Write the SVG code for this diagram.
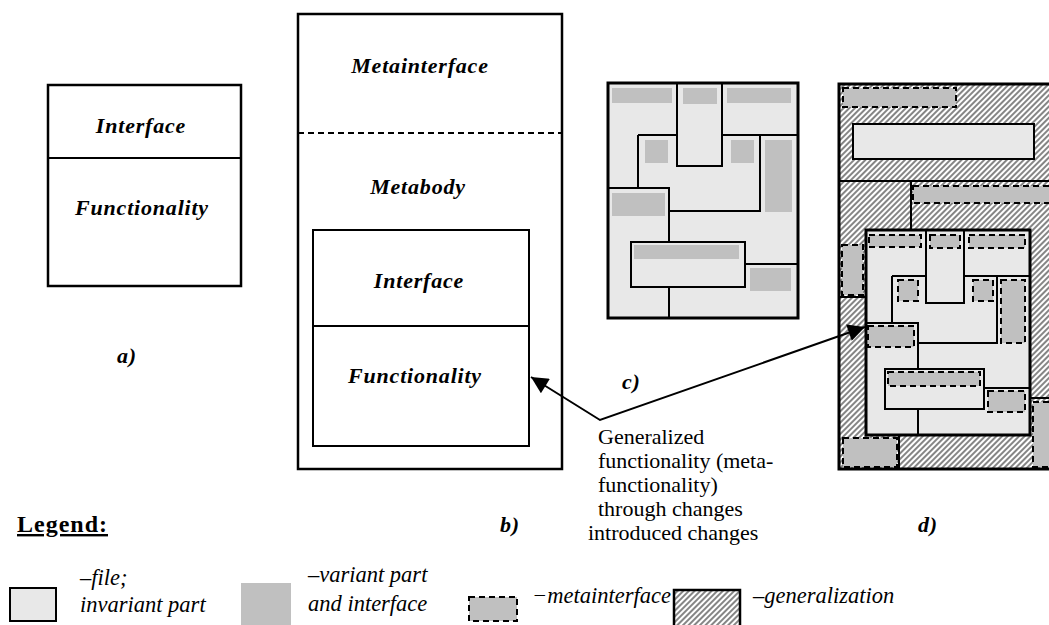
<svg xmlns="http://www.w3.org/2000/svg" width="1049" height="625" viewBox="0 0 1049 625">
<defs>
<pattern id="hatch" patternUnits="userSpaceOnUse" width="4" height="4" patternTransform="rotate(45)">
<rect width="4" height="4" fill="#ffffff"/>
<line x1="1" y1="0" x2="1" y2="4" stroke="#444444" stroke-width="1.3"/>
</pattern>
<marker id="ah" viewBox="0 0 10 10" refX="10" refY="5" markerWidth="22" markerHeight="17" markerUnits="userSpaceOnUse" orient="auto-start-reverse">
<path d="M0,0 L10,5 L0,10 z" fill="#000"/>
</marker>
<style>
.lbl{font-family:"Liberation Serif","Times New Roman",serif;font-size:22px;font-weight:bold;font-style:italic;letter-spacing:0.8px;fill:#000}
.note{font-family:"Liberation Serif","Times New Roman",serif;font-size:22px;fill:#000}
.leg{font-family:"Liberation Serif","Times New Roman",serif;font-size:22.5px;font-style:italic;fill:#000}
.box{fill:#fff;stroke:#000;stroke-width:2.5}
.ln{fill:none;stroke:#000;stroke-width:2}
.thick{stroke:#000;stroke-width:3}
.light{fill:#e8e8e8}
.var{fill:#c0c0c0}
.meta{fill:#c0c0c0;stroke:#000;stroke-width:2;stroke-dasharray:6,4}
.conn{fill:none;stroke:#000;stroke-width:2}
</style>
</defs>

<g id="node-a">
<rect class="box" x="48" y="85" width="193" height="201"/>
<line class="ln" x1="48" y1="158" x2="241" y2="158"/>
<text class="lbl" x="141" y="133" text-anchor="middle">Interface</text>
<text class="lbl" x="142" y="215" text-anchor="middle">Functionality</text>
<text class="lbl" x="117" y="363">a)</text>
</g>

<g id="node-b">
<rect class="box" x="298" y="14" width="264" height="455"/>
<line x1="298" y1="133" x2="562" y2="133" stroke="#000" stroke-width="2" stroke-dasharray="6,4"/>
<text class="lbl" x="420" y="73" text-anchor="middle">Metainterface</text>
<text class="lbl" x="418" y="194" text-anchor="middle">Metabody</text>
<rect class="ln" x="313" y="230" width="216" height="216"/>
<line class="ln" x1="313" y1="326" x2="529" y2="326"/>
<text class="lbl" x="419" y="288" text-anchor="middle">Interface</text>
<text class="lbl" x="415" y="383" text-anchor="middle">Functionality</text>
<text class="lbl" x="500" y="532">b)</text>
</g>

<g id="node-c">
<rect class="light thick" x="608" y="83" width="190" height="235"/>
<rect class="ln" x="677" y="83" width="45" height="83"/>
<path class="ln" d="M638,135 H677 M722,135 H798 M638,135 V188 M608,188 H669 V242 M669,211 H760 V135 M745,264 H798 M669,287 V318"/>
<rect class="ln" x="631" y="242" width="114" height="45"/>
<rect class="var" x="612" y="88" width="60" height="15"/>
<rect class="var" x="683" y="88" width="34" height="16"/>
<rect class="var" x="727" y="88" width="64" height="15"/>
<rect class="var" x="645" y="140" width="23" height="23"/>
<rect class="var" x="731" y="140" width="23" height="23"/>
<rect class="var" x="765" y="140" width="27" height="72"/>
<rect class="var" x="612" y="193" width="53" height="23"/>
<rect class="var" x="634" y="245" width="105" height="14"/>
<rect class="var" x="750" y="268" width="41" height="23"/>
<text class="lbl" x="622" y="389">c)</text>
</g>

<g id="node-d">
<rect x="839" y="84" width="225" height="385" fill="url(#hatch)" class="thick"/>
<rect class="meta" x="843" y="88" width="113" height="19"/>
<rect class="light" x="853" y="124" width="181" height="35" stroke="#000" stroke-width="2"/>
<path class="ln" d="M839,181 H1064 M911,181 V230 M839,297 H866 M899,435 V469 M1030,398 H1064"/>
<rect class="meta" x="913" y="186" width="150" height="17"/>
<rect class="meta" x="842" y="245" width="21" height="50"/>
<rect class="meta" x="843" y="438" width="54" height="29"/>
<rect class="meta" x="1033" y="402" width="30" height="65"/>
<rect class="light thick" x="866" y="230" width="164" height="205"/>
<rect class="ln" x="926" y="230" width="38" height="73"/>
<path class="ln" d="M892,276 H926 M964,276 H1030 M892,276 V323 M866,323 H918 V369 M918,343 H997 V276 M984,388 H1030 M918,409 V435"/>
<rect class="ln" x="885" y="369" width="99" height="40"/>
<rect class="meta" x="869" y="235" width="52" height="12"/>
<rect class="meta" x="930" y="235" width="30" height="13"/>
<rect class="meta" x="969" y="235" width="56" height="13"/>
<rect class="meta" x="898" y="280" width="20" height="21"/>
<rect class="meta" x="973" y="280" width="20" height="21"/>
<rect class="meta" x="1001" y="280" width="24" height="63"/>
<rect class="meta" x="868" y="326" width="46" height="21"/>
<rect class="meta" x="888" y="372" width="92" height="14"/>
<rect class="meta" x="988" y="391" width="37" height="21"/>
<text class="lbl" x="918" y="532">d)</text>
</g>

<g id="connectors">
<path class="conn" d="M531,377 L600,420 L865,327" marker-start="url(#ah)" marker-end="url(#ah)"/>
</g>

<g id="note">
<text class="note" x="598" y="444">Generalized</text>
<text class="note" x="598" y="468">functionality (meta-</text>
<text class="note" x="598" y="492">functionality)</text>
<text class="note" x="598" y="516">through changes</text>
<text class="note" x="588" y="540">introduced changes</text>
</g>

<g id="legend">
<text x="17" y="532" font-family="'Liberation Serif','Times New Roman',serif" font-size="24" font-weight="bold" letter-spacing="1" text-decoration="underline">Legend:</text>
<rect class="light" x="10" y="588" width="46" height="33" stroke="#000" stroke-width="2"/>
<text class="leg" x="80" y="585">–file;</text>
<text class="leg" x="80" y="612">invariant part</text>
<rect class="var" x="241" y="583" width="50" height="42"/>
<text class="leg" x="308" y="582">–variant part</text>
<text class="leg" x="308" y="611">and interface</text>
<rect class="meta" x="469" y="597" width="48" height="24"/>
<text class="leg" x="532" y="603">−metainterface</text>
<rect x="674" y="590" width="66" height="40" fill="url(#hatch)" stroke="#000" stroke-width="2.5"/>
<text class="leg" x="753" y="603">–generalization</text>
</g>
</svg>
